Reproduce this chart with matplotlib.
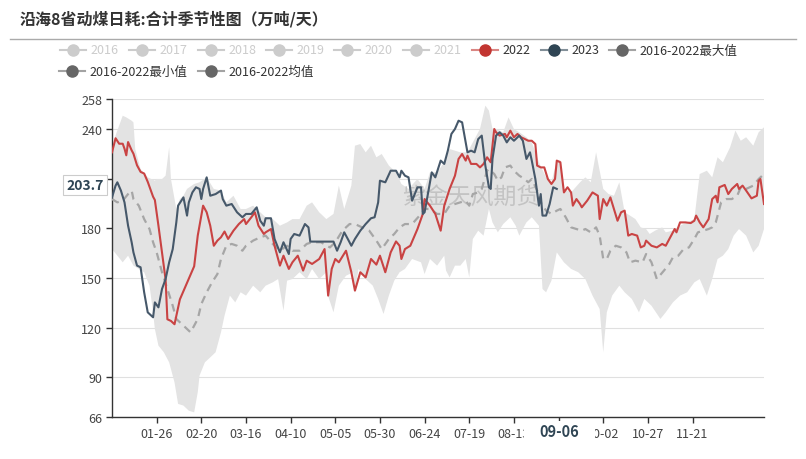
import pandas as pd
import matplotlib
matplotlib.use('Agg')
import matplotlib.pyplot as plt
from matplotlib.lines import Line2D
from matplotlib.patches import Rectangle

plt.rcParams['font.family'] = ['Noto Sans CJK SC', 'DejaVu Sans']

# category axis: 366 calendar days (MM-DD)
dates = list(pd.date_range('2020-01-01', '2020-12-31').strftime('%m-%d'))

# 2022 daily burn (day index, value)
y2022_d = [0, 2, 4, 6, 7, 8, 9, 11, 12, 14, 16, 18, 20, 23, 24, 26, 28, 30, 31, 33, 35, 36, 38, 40, 42, 44, 46, 48, 49,
           51, 53, 55, 57, 59, 61, 63, 65, 68, 71, 74, 75, 78, 80, 82, 85, 86, 89, 91, 94, 96, 99, 101, 104, 107, 109,
           112, 116, 119, 121, 123, 125, 127, 131, 134, 136, 139, 142, 145, 148, 150, 153, 156, 159, 161, 162, 164,
           167, 171, 174, 175, 178, 181, 184, 186, 189, 192, 194, 196, 198, 199, 201, 204, 206, 208, 210, 212, 214,
           215, 217, 220, 221, 223, 225, 227, 229, 231, 233, 235, 237, 238, 240, 242, 244, 246, 248, 249, 251, 253,
           255, 257, 258, 260, 262, 263, 266, 269, 272, 273, 275, 277, 279, 281, 283, 285, 287, 289, 291, 294, 296,
           298, 299, 302, 305, 308, 310, 313, 315, 316, 318, 321, 324, 326, 327, 329, 331, 334, 336, 338, 339, 340,
           343, 345, 347, 350, 351, 353, 355, 358, 361, 362, 363, 365]
y2022_v = [225.8, 234.3, 231, 231, 228, 224, 232, 227, 225, 218, 214, 213, 208, 199, 197, 181.5, 165.4, 149, 125, 124,
           122, 127, 137, 142, 147, 152, 157, 175.5, 181.5, 193.6, 189.6, 181.5, 169.4, 172.5, 174.5, 178, 173.5, 178.5,
           182.5, 185.5, 182.5, 186.6, 189.6, 181.5, 176.5, 177.5, 179.5, 169.4, 157.4, 163.4, 155.4, 159.4, 163.4,
           154.4, 160.4, 158.4, 161.4, 167.4, 139.3, 155.4, 161.4, 159.4, 166.4, 153.4, 142.3, 153.4, 150.3, 161.4,
           158, 163.4, 153.4, 165.4, 172, 169.4, 161.4, 167.4, 169.4, 179.5, 188.6, 197.6, 193.6, 188.6, 178.5, 193.6,
           203.7, 211.7, 221.8, 224.8, 220.8, 223.8, 218.8, 218.8, 216.7, 218.8, 222.8, 219.8, 239.9, 237.9, 235.9,
           236.9, 234.9, 238.9, 234.9, 236.9, 234.9, 233.9, 232.8, 232.8, 230.8, 217.8, 216.7, 216.7, 209.7, 206.7,
           209.7, 220.8, 219.8, 201.6, 204.7, 201.6, 193.6, 197.6, 194.6, 192.6, 196.6, 201.6, 199.6, 185.5, 197.6,
           193.6, 198.6, 191.6, 184.5, 189.6, 190.6, 175.5, 176.5, 175.5, 168.4, 169.4, 172.5, 169.4, 168.4, 170.5,
           169.4, 175.5, 179.5, 177.5, 183.5, 183.5, 183.1, 184.5, 187.6, 183.5, 180.5, 185.5, 197.6, 199.6, 195.6,
           204.7, 206.1, 200.6, 203.7, 206.7, 203.7, 205.7, 202.7, 198, 199.6, 208.7, 209.7, 194.6]

# 2023 daily burn
y2023_d = [0, 2, 3, 5, 7, 9, 11, 12, 14, 16, 18, 20, 22, 23, 24, 26, 28, 30, 32, 34, 36, 37, 40, 42, 43, 45, 47, 49, 50,
           51, 53, 55, 58, 61, 62, 64, 67, 70, 73, 75, 78, 81, 83, 85, 86, 89, 91, 94, 96, 99, 100, 102, 105, 108, 110,
           111, 124, 126, 128, 130, 132, 134, 136, 139, 142, 145, 147, 149, 150, 153, 156, 159, 161, 162, 164, 166,
           168, 171, 173, 174, 175, 177, 179, 181, 184, 186, 188, 190, 192, 194, 196, 198, 199, 201, 203, 205, 207,
           209, 211, 212, 213, 215, 217, 219, 221, 223, 225, 226, 228, 230, 232, 234, 235, 237, 239, 240, 241, 243,
           245, 247, 249]
y2023_v = [198.6, 205.7, 207.7, 202.7, 195.6, 181.5, 171.5, 165.4, 157.4, 156.4, 141.3, 129.2, 127.2, 126.2, 135.2,
           132.2, 143.3, 149.3, 159.4, 167.4, 183.5, 193.6, 198.6, 187.6, 195.6, 201.6, 204.7, 203.7, 197.6, 203.7,
           210.7, 199.6, 200.6, 202.7, 197.6, 193.6, 194.6, 189.6, 186.6, 188.6, 188.6, 192.6, 184.5, 181.5, 186, 186,
           173.5, 165.4, 171.5, 164.4, 173.5, 176.5, 175.5, 182.5, 180.5, 171.9, 171.9, 166.4, 171.5, 177.5, 173.5,
           169.4, 173.5, 178.5, 182.5, 186, 186.6, 195.6, 208.7, 207.7, 214.7, 214.7, 210.7, 214.7, 211.7, 210.7,
           196.6, 204.7, 204.7, 188.6, 189.6, 201.6, 213.7, 210.7, 220.8, 218.8, 226.8, 236.9, 239.9, 244.9, 243.9,
           231.8, 225.8, 226.8, 225.8, 233.8, 235.9, 217.8, 204.7, 203.7, 221.8, 235.9, 237.9, 235.9, 231.8, 234.9,
           232.8, 233.8, 235.9, 232.8, 221.8, 225.8, 220.8, 209.7, 193.6, 200.6, 187.6, 187.6, 194.6, 204.7, 203.7]

# 2016-2022 mean
mean_d = [0, 3, 6, 9, 11, 12, 15, 18, 21, 23, 25, 28, 31, 34, 36, 40, 44, 48, 50, 53, 56, 59, 61, 64, 67, 70, 73, 75,
          79, 83, 86, 90, 94, 98, 101, 105, 109, 112, 117, 122, 125, 129, 133, 136, 140, 144, 148, 151, 155, 158, 161,
          164, 168, 173, 175, 178, 182, 186, 189, 195, 198, 200, 202, 205, 207, 210, 211, 214, 216, 218, 220, 223, 225,
          228, 231, 233, 235, 238, 240, 243, 246, 249, 251, 254, 257, 260, 263, 265, 268, 271, 273, 275, 277, 279,
          282, 285, 288, 290, 293, 297, 299, 302, 305, 309, 312, 314, 317, 320, 323, 326, 328, 331, 334, 336, 338,
          341, 344, 347, 350, 352, 355, 359, 362, 364]
mean_v = [197.6, 195.6, 196.6, 200.6, 202.7, 197.6, 193.6, 185.5, 179.5, 171.5, 165.4, 153.4, 143.3, 133.2, 125.2,
          121.2, 117.1, 125.2, 134.2, 141.3, 147.3, 152.3, 161.4, 169.4, 170.5, 169.4, 166.4, 169.4, 172.5, 174.5,
          175.5, 170.5, 166.4, 169.4, 166.4, 166.4, 170.5, 171.5, 171.5, 168.4, 171.5, 178.5, 182.5, 182.5, 180.5,
          178.5, 172.5, 167.4, 173.5, 176.5, 180.5, 182.5, 182.5, 188.6, 191.6, 191.6, 188.6, 188.6, 193.6, 195.6,
          196.6, 193.6, 200.6, 201.6, 203.7, 214.7, 215.7, 212.7, 208.7, 210.7, 216.7, 217.8, 214.7, 211.7, 209.7,
          207.7, 209.7, 202.7, 195.6, 190.6, 188.6, 190.6, 191.6, 186.6, 180.5, 179.5, 178.5, 179.5, 177.5, 180.5,
          175.5, 161.4, 161.4, 166.4, 169.4, 168.4, 165.4, 159.4, 160.4, 159.4, 164.4, 159.4, 149.3, 154.4, 158.4,
          162.4, 163.4, 167.4, 168.4, 173.5, 177.5, 178.5, 179.5, 180.5, 183.5, 195.6, 197.6, 197.6, 199.6, 204.7,
          203.7, 205.7, 209.7, 211.7]

# 2016-2022 max
max_d = [0, 2, 6, 8, 11, 12, 13, 16, 20, 24, 25, 28, 30, 32, 33, 36, 38, 40, 42, 46, 49, 53, 57, 61, 64, 68, 72, 75,
         79, 83, 86, 90, 94, 98, 101, 105, 109, 112, 116, 120, 124, 127, 130, 134, 136, 139, 142, 145, 148, 151, 155,
         159, 162, 166, 171, 175, 178, 182, 186, 189, 195, 199, 202, 206, 209, 211, 213, 215, 219, 222, 225, 228,
         232, 235, 239, 243, 246, 249, 251, 253, 257, 262, 265, 268, 271, 275, 278, 281, 284, 287, 290, 293, 296,
         299, 301, 304, 308, 310, 314, 318, 322, 326, 329, 333, 336, 339, 342, 346, 349, 352, 355, 359, 362, 365]
max_v = [228, 236, 247.9, 246.9, 244.9, 243.9, 227.8, 215.7, 210.7, 208.7, 209.7, 209.7, 211.7, 228.8, 209.7, 191.6,
         197.6, 199.6, 203.7, 206.7, 207.7, 210.7, 203.7, 202.7, 195.6, 199.6, 191.6, 191.6, 193.6, 189.6, 186.6,
         185.5, 181.5, 183.5, 185.5, 185.5, 193.6, 195.6, 189.6, 185.5, 188.6, 205.7, 191.6, 205.7, 229.8, 230.8,
         225.8, 229.8, 222.8, 224.8, 217.8, 213.7, 206.7, 203.7, 209.7, 203.7, 213.7, 213.7, 219.8, 227.8, 225.8,
         225.8, 231.8, 239.9, 254, 251, 240, 239.9, 237.9, 246.9, 239.9, 237.9, 234.9, 231.8, 219.8, 210.7, 207.7,
         220.8, 221, 203.7, 201.6, 207.7, 210.7, 207.7, 225.8, 203.7, 200.6, 199.6, 207.7, 189.6, 187.6, 185.5, 180.5,
         179.5, 176.5, 178.5, 180.5, 177.5, 178.5, 181.5, 183.5, 185.5, 212.7, 214.7, 210.7, 222.8, 219.8, 228.8,
         238.9, 232.8, 234.9, 229.8, 237.9, 240.9]

# 2016-2022 min
min_d = [0, 3, 6, 9, 12, 15, 18, 21, 23, 24, 26, 29, 32, 35, 37, 40, 43, 46, 48, 49, 52, 55, 58, 61, 63, 66, 69, 72, 75,
         79, 83, 86, 90, 93, 96, 98, 101, 105, 109, 112, 116, 120, 121, 124, 127, 131, 135, 136, 138, 142, 146, 149,
         152, 155, 158, 161, 164, 168, 173, 175, 178, 182, 186, 187, 189, 192, 195, 198, 200, 202, 205, 208, 211,
         213, 216, 219, 223, 226, 228, 232, 235, 239, 241, 243, 246, 249, 253, 257, 261, 265, 269, 273, 275, 277,
         280, 284, 287, 291, 295, 298, 302, 307, 310, 314, 318, 322, 326, 329, 333, 336, 339, 342, 345, 348, 351,
         355, 359, 362, 365]
min_v = [167.4, 163.4, 159.4, 163.4, 157.4, 155.4, 153.4, 145.3, 129.2, 119.1, 109.1, 105.1, 99.0, 86.9, 73.9, 72.9,
         69.8, 68.8, 80.9, 91.0, 99.0, 102.0, 105.1, 117.1, 127.2, 139.3, 135.2, 141.3, 139.3, 145.3, 141.3, 145.3,
         147.3, 149.3, 130.2, 148.3, 149.3, 153.4, 149.3, 155.4, 149.3, 153.4, 139, 129.2, 145.3, 151.3, 153.4, 141,
         155.4, 149.3, 145.3, 137.3, 128.2, 139.3, 148.3, 153.4, 155.4, 161.4, 159.4, 152.3, 161.4, 157.4, 163.4,
         154.4, 150.3, 157.4, 157.4, 161.4, 150.3, 173.5, 178.5, 175.5, 191.6, 183.5, 177.5, 182.5, 186.6, 181.5,
         175.5, 183.5, 186.6, 181.5, 143.3, 141.3, 148.3, 165.4, 159.4, 155.4, 153.4, 149.3, 139.3, 131.2, 105.1,
         129.2, 139.3, 145.3, 141.3, 137.3, 129.2, 137.3, 133.2, 125.2, 129.2, 135.2, 139.3, 141.3, 147.3, 149.3,
         139.3, 149.3, 161.4, 163.4, 167.4, 175.5, 179.5, 175.5, 165.4, 169.4, 179.5]

yticks = [66, 90, 120, 150, 180, 210, 240, 258]
xticks = [25, 50, 75, 100, 125, 150, 175, 200, 225, 250, 275, 300, 325]

legend_names = ['2016', '2017', '2018', '2019', '2020', '2021', '2022', '2023', '2016-2022最大值',
                '2016-2022最小值', '2016-2022均值']
legend_colors = ['#cccccc'] * 6 + ['#c23531', '#2f4554', '#666666', '#666666', '#666666']
legend_text_colors = ['#cccccc'] * 6 + ['#333333'] * 5

W, H = 806, 460
fig = plt.figure(figsize=(W / 100, H / 100), dpi=100)


def fx(px):
    return px / W


def fy(py):
    return 1 - py / H


ax = fig.add_axes([fx(112), fy(418), (764 - 112) / W, (418 - 100) / H])

# gray band max/min
ax.fill(max_d + min_d[::-1], max_v + min_v[::-1], color='#e3e3e3', lw=0, zorder=1)
ax.text(201, 199, '紫金天风期货', fontsize=16.5, color='#bbbbbb', alpha=0.8, ha='center', va='center', zorder=2)
ax.plot(mean_d, mean_v, color='#a6a6a6', lw=1.6, ls=(0, (3.5, 2.5)), zorder=3)
ax.plot(y2022_d, y2022_v, color='#c94343', lw=1.5, zorder=4)
ax.plot(y2023_d, y2023_v, color='#46586a', lw=1.5, zorder=5)

ax.set_xlim(0, 365)
ax.set_ylim(66, 258)
ax.set_yticks(yticks)
ax.set_xticks(xticks)
ax.set_xticklabels(['' if t == 250 else dates[t] for t in xticks])
ax.grid(axis='y', color='#e0e0e0', lw=0.8)
ax.set_axisbelow(True)
for s in ['top', 'right']:
    ax.spines[s].set_visible(False)
for s in ['left', 'bottom']:
    ax.spines[s].set_color('#333333')
    ax.spines[s].set_linewidth(1)
ax.tick_params(axis='both', colors='#333333', labelsize=9, length=4, width=1)
ax.tick_params(axis='y', pad=3)
ax.tick_params(axis='x', pad=3)
for lab in ax.get_xticklabels() + ax.get_yticklabels():
    lab.set_color('#444444')

# axis pointer labels
fig.add_artist(Rectangle((fx(524), fy(442)), 71 / W, 20 / H, transform=fig.transFigure,
                         facecolor='white', edgecolor='none', zorder=5))
fig.text(fx(559), fy(432), dates[249], fontsize=10.5, fontweight='bold', color='#2f4554',
         ha='center', va='center', zorder=6)
fig.text(fx(85), fy(186), '203.7', fontsize=10, fontweight='bold', color='#2f4554', ha='center', va='center',
         zorder=6, bbox=dict(boxstyle='square,pad=0.25', fc='white', ec='#cccccc', lw=0.8))

# title
fig.text(fx(20), fy(19), '沿海8省动煤日耗:合计季节性图（万吨/天）', fontsize=11.5, fontweight='bold',
         color='#333333', ha='left', va='center')
fig.add_artist(Line2D([fx(10), fx(796)], [fy(40), fy(40)], color='#aaaaaa', lw=1))

# legend
text_x = [90, 159, 228, 296, 364, 433, 502, 571, 639, 89, 228]
row_y = [51] * 9 + [72] * 2
for name, c, tc, tx, ry in zip(legend_names, legend_colors, legend_text_colors, text_x, row_y):
    lc = c if c == '#cccccc' else c
    fig.add_artist(Line2D([fx(tx - 30), fx(tx - 4)], [fy(ry), fy(ry)], color=lc, lw=1.5,
                          alpha=1 if c == '#cccccc' else 0.6))
    fig.add_artist(Line2D([fx(tx - 17)], [fy(ry)], marker='o', markersize=8, color=c, lw=0))
    fig.text(fx(tx), fy(ry), name, fontsize=9, color=tc, ha='left', va='center')

fig.savefig('out.png', dpi=100)
